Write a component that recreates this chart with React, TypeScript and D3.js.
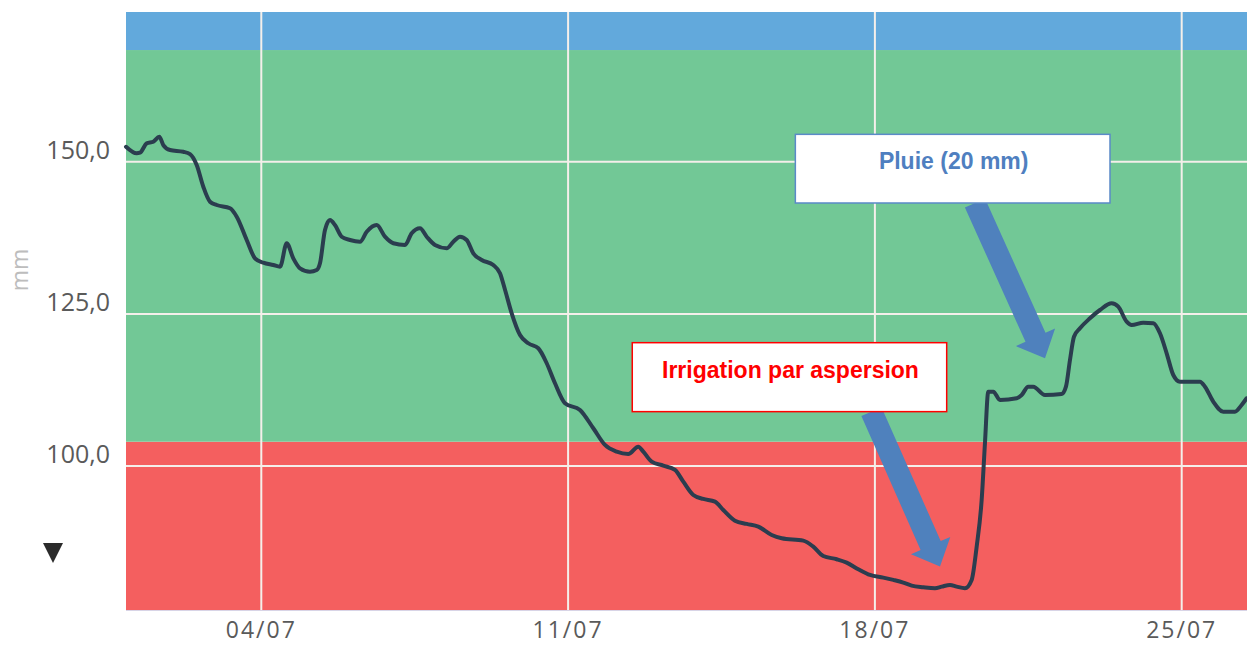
import React from "react";
import * as d3 from "d3";

// ---- data ----
const dayOfJuly: number[] = [
  0.913, 1.157, 1.233, 1.385, 1.536, 1.673, 1.764, 1.917, 2.22, 2.373,
  2.526, 2.677, 2.83, 2.982, 3.286, 3.439, 3.667, 3.856, 4.046, 4.274,
  4.427, 4.58, 4.73, 4.883, 5.111, 5.264, 5.339, 5.453, 5.567, 5.681,
  5.834, 6.024, 6.252, 6.405, 6.633, 6.822, 7.012, 7.279, 7.431, 7.621,
  7.774, 7.963, 8.23, 8.381, 8.533, 8.686, 8.837, 9.029, 9.293, 9.446,
  9.562, 9.713, 9.903, 10.092, 10.32, 10.512, 10.701, 10.929, 11.271, 11.575,
  11.842, 12.109, 12.373, 12.601, 12.715, 12.907, 13.172, 13.439, 13.628, 13.856,
  14.084, 14.351, 14.541, 14.807, 15.075, 15.339, 15.645, 15.873, 16.366, 16.594,
  16.822, 17.128, 17.356, 17.621, 17.888, 18.191, 18.42, 18.648, 18.839, 19.104,
  19.371, 19.524, 19.713, 19.866, 20.055, 20.208, 20.322, 20.436, 20.511, 20.587,
  20.701, 20.854, 21.235, 21.349, 21.499, 21.613, 21.88, 22.261, 22.359, 22.451,
  22.542, 22.679, 22.907, 23.135, 23.402, 23.553, 23.744, 23.858, 24.123, 24.351,
  24.504, 24.657, 24.808, 24.96, 25.417, 25.531, 25.72, 25.948, 26.215, 26.368,
  26.482,
];
const reserveMm: number[] = [
  152.46, 151.38, 151.48, 153.02, 153.29, 154.11, 152.74, 151.92, 151.64, 151.26,
  149.46, 145.89, 143.43, 142.89, 142.35, 140.97, 137.14, 134.13, 133.41, 133.03,
  132.75, 136.6, 134.13, 132.49, 131.93, 132.21, 133.31, 138.78, 140.42, 139.6,
  137.68, 137.14, 136.86, 138.5, 139.6, 137.68, 136.6, 136.32, 138.24, 139.06,
  137.68, 136.32, 135.78, 136.86, 137.68, 137.14, 134.95, 133.85, 133.03, 131.67,
  128.93, 125.1, 121.53, 120.17, 119.35, 116.89, 113.6, 110.32, 109.22, 106.21,
  103.47, 102.37, 101.99, 103.19, 102.37, 100.72, 100.07, 99.36, 97.44, 95.25,
  94.6, 94.15, 92.79, 91.03, 90.49, 90.05, 88.68, 88.14, 87.75, 86.76,
  85.23, 84.69, 84.13, 83.05, 82.11, 81.67, 81.29, 80.85, 80.35, 80.09,
  79.93, 80.19, 80.47, 80.19, 79.93, 81.29, 86.76, 94.43, 103.74, 112.22,
  112.22, 110.86, 111.14, 111.68, 113.04, 113.04, 111.68, 111.84, 113.04, 117.43,
  121.25, 122.63, 124.28, 125.64, 126.74, 126.18, 123.72, 123.18, 123.55, 123.46,
  121.81, 118.53, 114.96, 113.86, 113.86, 113.04, 110.58, 108.94, 108.94, 110.04,
  111.14,
];

const xDomain: [number, number] = [0.913, 26.49];
const yDomain: [number, number] = [76.35, 174.6];
const xTicks: number[] = [4, 11, 18, 25];
const xTickLabels: string[] = ["04/07", "11/07", "18/07", "25/07"];
const yTicks: number[] = [100, 125, 150];
const yTickLabels: string[] = ["100,0", "125,0", "150,0"];

// zones: [from, to, colour]
const zoneFrom: number[] = [76.35, 104.0, 168.35];
const zoneTo: number[] = [104.0, 168.35, 174.6];
const zoneColors: string[] = ["#f45f5f", "#72c896", "#62a9dc"];

// annotations in data units
const noteTexts: string[] = ["Pluie (20 mm)", "Irrigation par aspersion"];
const noteColors: string[] = ["#4f7fc0", "#ff0000"];
const noteBorders: string[] = ["#5b8ac8", "#ff0000"];
const noteBoxDay0: number[] = [16.185, 12.464];
const noteBoxDay1: number[] = [23.364, 19.638];
const noteBoxTop: number[] = [154.5, 120.27];
const noteBoxBottom: number[] = [143.22, 108.94];
const arrowTailDay: number[] = [20.283, 17.922];
const arrowTailVal: number[] = [143.22, 108.94];
const arrowTipDay: number[] = [21.88, 19.485];
const arrowTipVal: number[] = [117.71, 83.48];

const W = 1247;
const H = 646;
const M = { left: 126, top: 12, right: 0, bottom: 36 };

function arrowPath(x0: number, y0: number, x1: number, y1: number) {
  const shaftW = 22;
  const headW = 43;
  const headL = 23;
  const dx = x1 - x0;
  const dy = y1 - y0;
  const len = Math.hypot(dx, dy);
  const ux = dx / len;
  const uy = dy / len;
  const px = -uy;
  const py = ux;
  const bx = x1 - ux * headL;
  const by = y1 - uy * headL;
  const pts: [number, number][] = [
    [x0 + px * shaftW / 2, y0 + py * shaftW / 2],
    [bx + px * shaftW / 2, by + py * shaftW / 2],
    [bx + px * headW / 2, by + py * headW / 2],
    [x1, y1],
    [bx - px * headW / 2, by - py * headW / 2],
    [bx - px * shaftW / 2, by - py * shaftW / 2],
    [x0 - px * shaftW / 2, y0 - py * shaftW / 2],
  ];
  return "M" + pts.map((p) => p[0].toFixed(1) + "," + p[1].toFixed(1)).join("L") + "Z";
}

export default function App() {
  const x = d3.scaleLinear().domain(xDomain).range([M.left, W - M.right]);
  const y = d3.scaleLinear().domain(yDomain).range([H - M.bottom, M.top]);

  const line = d3
    .line<number>()
    .x((_, i) => x(dayOfJuly[i]))
    .y((v) => y(v))
    .curve(d3.curveMonotoneX);

  const gridColor = "#f4efea";
  const labelFont = "'Open Sans', 'DejaVu Sans', sans-serif";
  const noteFont = "'Liberation Sans', Arial, sans-serif";

  return (
    <svg
      width={W}
      height={H}
      style={{ position: "absolute", left: 0, top: 0, background: "#ffffff" }}
    >
      {/* zones */}
      {zoneFrom.map((f, i) => (
        <rect
          key={"z" + i}
          x={x(xDomain[0])}
          width={x(xDomain[1]) - x(xDomain[0])}
          y={y(zoneTo[i])}
          height={y(f) - y(zoneTo[i])}
          fill={zoneColors[i]}
        />
      ))}
      {/* bottom axis line */}
      <line
        x1={x(xDomain[0])}
        x2={x(xDomain[1])}
        y1={y(yDomain[0]) + 0.5}
        y2={y(yDomain[0]) + 0.5}
        stroke="#d8d4e6"
        strokeWidth={1}
      />
      {/* grid */}
      {yTicks.map((t) => (
        <line
          key={"gy" + t}
          x1={x(xDomain[0])}
          x2={x(xDomain[1])}
          y1={y(t)}
          y2={y(t)}
          stroke={gridColor}
          strokeWidth={2}
        />
      ))}
      {xTicks.map((t) => (
        <line
          key={"gx" + t}
          x1={x(t)}
          x2={x(t)}
          y1={y(yDomain[1])}
          y2={y(yDomain[0])}
          stroke={gridColor}
          strokeWidth={2}
        />
      ))}
      {/* y labels */}
      {yTicks.map((t, i) => (
        <text
          key={"ly" + t}
          x={110}
          y={y(t) - 3}
          textAnchor="end"
          fontFamily={labelFont}
          fontSize={25}
          fill="#5a5a5a"
        >
          {yTickLabels[i]}
        </text>
      ))}
      {/* x labels */}
      {xTicks.map((t, i) => (
        <text
          key={"lx" + t}
          x={x(t)}
          y={638}
          textAnchor="middle"
          fontFamily={labelFont}
          fontSize={23}
          letterSpacing={2}
          fill="#5a5a5a"
        >
          {xTickLabels[i]}
        </text>
      ))}
      {/* unit label */}
      <text
        transform="translate(28,270) rotate(-90)"
        textAnchor="middle"
        fontFamily={labelFont}
        fontSize={23}
        fill="#bdbdbd"
      >
        mm
      </text>
      {/* small marker */}
      <path d="M43,543L63,543L53,563Z" fill="#2b2b2b" />

      {/* data line */}
      <path
        d={line(reserveMm) || ""}
        fill="none"
        stroke="#2b3d4f"
        strokeWidth={4}
        strokeLinejoin="round"
        strokeLinecap="round"
      />

      {/* annotations */}
      {noteTexts.map((txt, i) => (
        <path
          key={"a" + i}
          d={arrowPath(
            x(arrowTailDay[i]),
            y(arrowTailVal[i]),
            x(arrowTipDay[i]),
            y(arrowTipVal[i])
          )}
          fill="#4f81bd"
        />
      ))}
      {noteTexts.map((txt, i) => {
        const x0 = x(noteBoxDay0[i]);
        const x1 = x(noteBoxDay1[i]);
        const y0 = y(noteBoxTop[i]);
        const y1 = y(noteBoxBottom[i]);
        return (
          <g key={"n" + i}>
            <rect
              x={x0}
              y={y0}
              width={x1 - x0}
              height={y1 - y0}
              fill="#ffffff"
              stroke={noteBorders[i]}
              strokeWidth={1.5}
            />
            <text
              x={(x0 + x1) / 2 + 1}
              y={y0 + 35}
              textAnchor="middle"
              fontFamily={noteFont}
              fontWeight="bold"
              fontSize={23}
              fill={noteColors[i]}
            >
              {txt}
            </text>
          </g>
        );
      })}
    </svg>
  );
}
